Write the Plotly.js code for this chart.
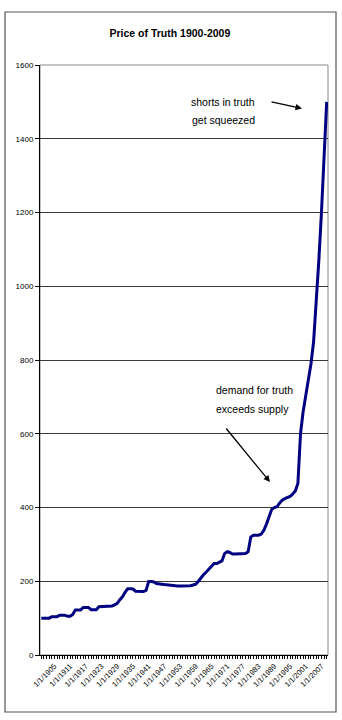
<!DOCTYPE html>
<html>
<head>
<meta charset="utf-8">
<script src="https://cdn.plot.ly/plotly-3.0.1.min.js"></script>
<style>html,body{margin:0;padding:0;background:#fff;}#chart{width:342px;height:720px;}</style>
</head>
<body>
<div id="chart"></div>
<script>
const years = [1900,1901,1902,1903,1904,1905,1906,1907,1908,1909,
1910,1911,1912,1913,1914,1915,1916,1917,1918,1919,
1920,1921,1922,1923,1924,1925,1926,1927,1928,1929,
1930,1931,1932,1933,1934,1935,1936,1937,1938,1939,
1940,1941,1942,1943,1944,1945,1946,1947,1948,1949,
1950,1951,1952,1953,1954,1955,1956,1957,1958,1959,
1960,1961,1962,1963,1964,1965,1966,1967,1968,1969,
1970,1971,1972,1973,1974,1975,1976,1977,1978,1979,
1980,1981,1982,1983,1984,1985,1986,1987,1988,1989,
1990,1991,1992,1993,1994,1995,1996,1997,1998,1999,
2000,2001,2002,2003,2004,2005,2006,2007,2008,2009];

const prices = [100,100,100,100,104,104,104,108,108,108,
105,105,110,122,122,122,129,129,129,123,
123,123,131,131,131,131,132,133,136,140,
150,158,170,180,180,179,173,172,172,172,
175,199,199,198,194,192,192,191,190,188,
187,187,187,187,187,187,187,188,190,192,
200,210,218,225,232,240,248,248,252,255,
275,280,278,274,274,274,274,274,275,280,
320,325,325,325,328,338,355,375,395,400,
402,412,420,424,427,430,436,445,465,600,
660,700,745,790,850,950,1070,1200,1350,1500];

const tickYears = [1905,1911,1917,1923,1929,1935,1941,1947,1953,1959,1965,1971,1977,1983,1989,1995,2001,2007];
const tickLabels = ["1/1/1905","1/1/1911","1/1/1917","1/1/1923","1/1/1929","1/1/1935","1/1/1941","1/1/1947","1/1/1953","1/1/1959","1/1/1965","1/1/1971","1/1/1977","1/1/1983","1/1/1989","1/1/1995","1/1/2001","1/1/2007"];

const titleText = "Price of Truth 1900-2009";
const note1 = ["shorts in truth", "get squeezed"];
const note2 = ["demand for truth", "exceeds supply"];

const FONT = "Liberation Sans, Arial, sans-serif";

const trace = {
  x: years, y: prices, type: 'scatter', mode: 'lines',
  line: {color: '#000080', width: 3}, hoverinfo: 'skip'
};

const layout = {
  width: 342, height: 720,
  margin: {l: 40, r: 14, t: 65, b: 65},
  paper_bgcolor: '#ffffff', plot_bgcolor: '#ffffff',
  showlegend: false,
  font: {family: FONT, color: '#000'},
  title: {text: '<b>' + titleText + '</b>', font: {family: FONT, size: 10.5, color: '#000'},
          xref: 'paper', x: 0.451, xanchor: 'center', yref: 'container', y: 1 - 33/720, yanchor: 'middle'},
  xaxis: {
    range: [1899.5, 2009.5], showgrid: false, zeroline: false,
    showline: true, linecolor: '#000', linewidth: 1,
    tickmode: 'array', tickvals: tickYears, ticktext: tickLabels,
    ticks: 'outside', ticklen: 3, tickcolor: '#000', tickwidth: 1,
    tickangle: -45, tickfont: {family: FONT, size: 7.5, color: '#000'},
    minor: {tick0: 1900, dtick: 1, ticks: 'outside', ticklen: 3, tickcolor: '#000', tickwidth: 1, showgrid: false},
    fixedrange: true
  },
  yaxis: {
    range: [0, 1600], dtick: 200, tick0: 0,
    showgrid: true, gridcolor: '#3a3a3a', gridwidth: 1, zeroline: false,
    showline: true, linecolor: '#000', linewidth: 1,
    ticks: 'outside', ticklen: 4, tickcolor: '#000',
    tickfont: {family: FONT, size: 8, color: '#000'},
    fixedrange: true
  },
  shapes: [
    {type: 'rect', xref: 'paper', yref: 'paper', x0: 0, x1: 1, y0: 0, y1: 1,
     line: {color: '#888888', width: 1}, layer: 'below'},
    {type: 'rect', xref: 'paper', yref: 'paper', x0: -0.1215, x1: 1.0278, y0: -0.0966, y1: 1.0898,
     line: {color: '#555555', width: 1.2}, layer: 'below'}
  ],
  annotations: [
    {xref: 'paper', yref: 'paper', x: 0.7535, y: 0.9378, xanchor: 'right', yanchor: 'middle',
     text: note1[0], showarrow: false, font: {family: FONT, size: 10.5, color: '#000'}},
    {xref: 'paper', yref: 'paper', x: 0.7535, y: 0.9075, xanchor: 'right', yanchor: 'middle',
     text: note1[1], showarrow: false, font: {family: FONT, size: 10.5, color: '#000'}},
    {xref: 'paper', yref: 'paper', x: 0.604, y: 0.449, xanchor: 'left', yanchor: 'middle',
     text: note2[0], showarrow: false, font: {family: FONT, size: 10.5, color: '#000'}},
    {xref: 'paper', yref: 'paper', x: 0.604, y: 0.417, xanchor: 'left', yanchor: 'middle',
     text: note2[1], showarrow: false, font: {family: FONT, size: 10.5, color: '#000'}},
    {xref: 'paper', yref: 'paper', x: 0.9097, y: 0.9263, text: '', showarrow: true,
     ax: -32, ay: -7, arrowhead: 2, arrowsize: 1, arrowwidth: 1.3, arrowcolor: '#000'},
    {xref: 'paper', yref: 'paper', x: 0.7986, y: 0.2932, text: '', showarrow: true,
     ax: -45, ay: -55, arrowhead: 2, arrowsize: 1, arrowwidth: 1.3, arrowcolor: '#000'}
  ]
};

Plotly.newPlot('chart', [trace], layout, {displayModeBar: false, staticPlot: true});
</script>
</body>
</html>
